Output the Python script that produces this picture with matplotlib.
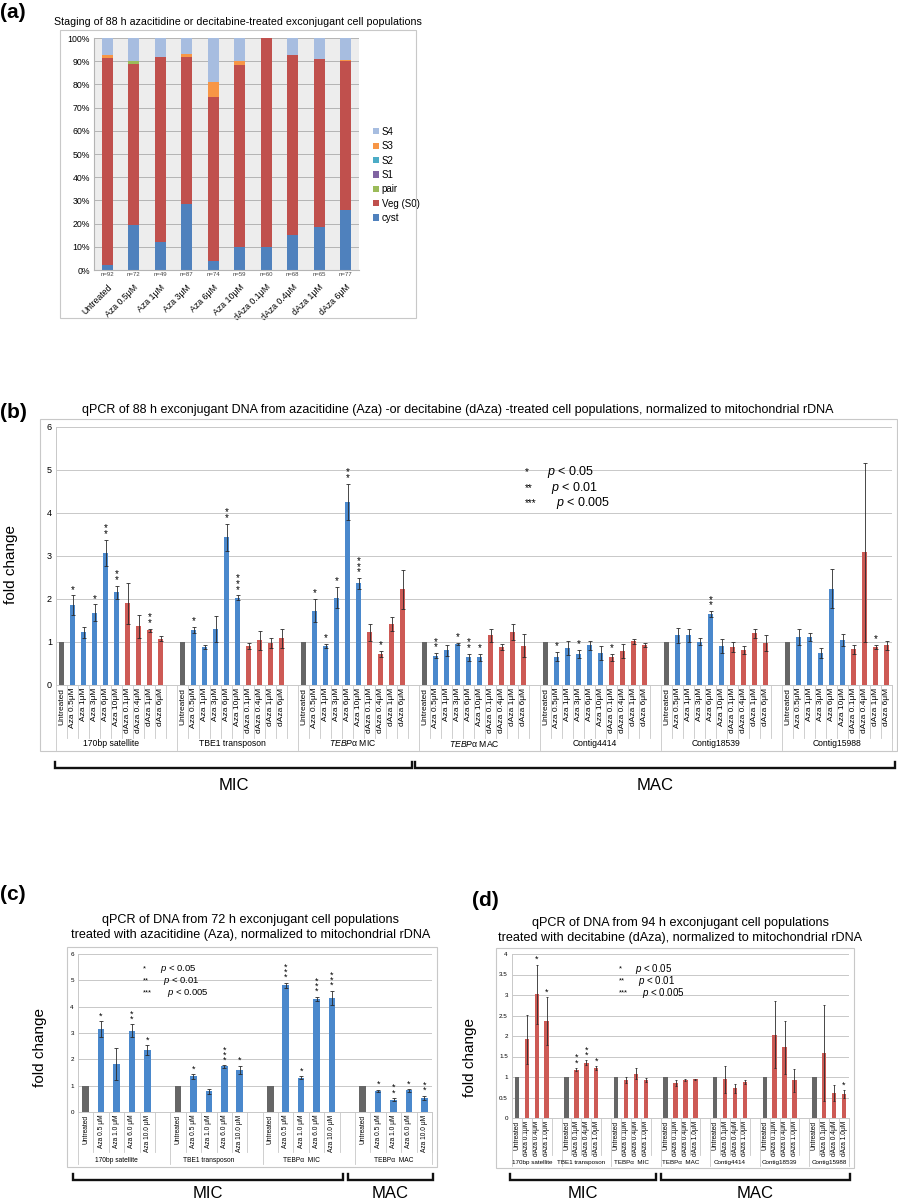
import matplotlib.pyplot as plt
from matplotlib.patches import Rectangle

plt.rcParams['font.family'] = ['Liberation Sans', 'DejaVu Sans']
plt.rcParams['mathtext.fontset'] = 'custom'
plt.rcParams['mathtext.rm'] = 'Liberation Sans'
plt.rcParams['mathtext.it'] = 'Liberation Sans:italic'

W, H = 898, 1200

# ---------------- (a) staging ----------------
stage_cats = ["Untreated", "Aza 0.5μM", "Aza 1μM", "Aza 3μM", "Aza 6μM", "Aza 10μM",
              "dAza 0.1μM", "dAza 0.4μM", "dAza 1μM", "dAza 6μM"]
stage_n = [92, 72, 49, 87, 74, 59, 60, 68, 65, 77]
cyst = [2, 19.5, 12, 28.5, 4, 10, 10, 15, 18.5, 26]
veg = [89.5, 69.5, 80, 63.5, 70.5, 78.5, 90, 77.8, 72.5, 64]
pair = [0, 1, 0, 0, 0, 0, 0, 0, 0, 0]
s1 = [0, 0, 0, 0, 0, 0, 0, 0, 0, 0]
s2 = [0, 0, 0, 0, 0, 0, 0, 0, 0, 0]
s3 = [1, 0, 0, 1, 6.5, 1.5, 0, 0, 0, 0.7]
s4 = [7.5, 10, 8, 7, 19, 10, 0, 7.2, 9, 9.3]

# ---------------- (b) qPCR 88 h ----------------
b_groups = ["170bp satellite", "TBE1 transposon", r"$\mathit{TEBP}$α MIC",
            r"$\mathit{TEBP}$α MAC", "Contig4414", "Contig18539", "Contig15988"]
b_conds = ["Untreated", "Aza 0.5μM", "Aza 1μM", "Aza 3μM", "Aza 6μM", "Aza 10μM",
           "dAza 0.1μM", "dAza 0.4μM", "dAza 1μM", "dAza 6μM"]
b_vals = [[1, 1.85, 1.22, 1.68, 3.07, 2.15, 1.90, 1.36, 1.27, 1.08],
          [1, 1.28, 0.89, 1.30, 3.43, 2.03, 0.91, 1.04, 0.98, 1.09],
          [1, 1.73, 0.91, 2.03, 4.25, 2.36, 1.22, 0.72, 1.42, 2.22],
          [1, 0.68, 0.81, 0.95, 0.64, 0.64, 1.15, 0.88, 1.23, 0.91],
          [1, 0.66, 0.86, 0.72, 0.92, 0.75, 0.64, 0.79, 1.02, 0.93],
          [1, 1.15, 1.15, 1.01, 1.64, 0.91, 0.89, 0.81, 1.20, 0.97],
          [1, 1.12, 1.11, 0.75, 2.24, 1.04, 0.83, 3.08, 0.89, 0.92]]
b_errs = [[0, 0.23, 0.12, 0.19, 0.30, 0.16, 0.48, 0.26, 0.03, 0.06],
          [0, 0.07, 0.05, 0.31, 0.31, 0.05, 0.07, 0.22, 0.12, 0.22],
          [0, 0.26, 0.04, 0.25, 0.42, 0.12, 0.19, 0.06, 0.16, 0.45],
          [0, 0.06, 0.13, 0.02, 0.08, 0.08, 0.16, 0.07, 0.19, 0.27],
          [0, 0.11, 0.17, 0.09, 0.10, 0.16, 0.08, 0.16, 0.06, 0.05],
          [0, 0.18, 0.16, 0.08, 0.07, 0.17, 0.12, 0.10, 0.11, 0.19],
          [0, 0.19, 0.09, 0.12, 0.46, 0.14, 0.10, 2.07, 0.05, 0.11]]
b_stars = [["", "*", "", "*", "**", "**", "", "", "**", ""],
           ["", "*", "", "", "**", "***", "", "", "", ""],
           ["", "*", "*", "*", "**", "***", "", "*", "", ""],
           ["", "**", "", "*", "**", "*", "", "", "", ""],
           ["", "*", "", "*", "", "", "*", "", "", ""],
           ["", "", "", "", "**", "", "", "", "", ""],
           ["", "", "", "", "", "", "", "", "*", ""]]

# ---------------- (c) qPCR 72 h Aza ----------------
c_groups = ["170bp satellite", "TBE1 transposon", "TEBPα  MIC", "TEBPα  MAC"]
c_conds = ["Untreated", "Aza 0.5 μM", "Aza 1.0 μM", "Aza 6.0 μM", "Aza 10.0 μM"]
c_vals = [[1, 3.15, 1.83, 3.09, 2.36],
          [1, 1.35, 0.78, 1.73, 1.60],
          [1, 4.81, 1.31, 4.29, 4.33],
          [1, 0.80, 0.47, 0.82, 0.54]]
c_errs = [[0, 0.31, 0.60, 0.24, 0.19],
          [0, 0.09, 0.10, 0.05, 0.16],
          [0, 0.10, 0.06, 0.09, 0.28],
          [0, 0.05, 0.07, 0.05, 0.08]]
c_stars = [["", "*", "", "**", "*"],
           ["", "*", "", "***", "*"],
           ["", "***", "*", "***", "***"],
           ["", "*", "**", "*", "**"]]

# ---------------- (d) qPCR 94 h dAza ----------------
d_groups = ["170bp satellite", "TBE1 transposon", "TEBPα  MIC", "TEBPα  MAC",
            "Contig4414", "Contig18539", "Contig15988"]
d_conds = ["Untreated", "dAza 0.1μM", "dAza 0.4μM", "dAza 1.0μM"]
d_vals = [[1, 1.92, 3.02, 2.37],
          [1, 1.18, 1.35, 1.21],
          [1, 0.93, 1.08, 0.92],
          [1, 0.85, 0.92, 0.94],
          [1, 0.94, 0.72, 0.88],
          [1, 2.03, 1.72, 0.92],
          [1, 1.58, 0.61, 0.58]]
d_errs = [[0, 0.60, 0.72, 0.58],
          [0, 0.04, 0.06, 0.05],
          [0, 0.07, 0.14, 0.05],
          [0, 0.08, 0.02, 0.02],
          [0, 0.33, 0.12, 0.05],
          [0, 0.82, 0.65, 0.28],
          [0, 1.17, 0.19, 0.10]]
d_stars = [["", "", "*", "*"],
           ["", "**", "**", "*"],
           ["", "", "", ""],
           ["", "", "", ""],
           ["", "", "", ""],
           ["", "", "", ""],
           ["", "", "", "*"]]

sig_marks = ["*", "**", "***"]
sig_texts = [r"$p$ < 0.05", r"$p$ < 0.01", r"$p$ < 0.005"]

GRAY = "#666666"
BLUE = "#4a88cc"
RED = "#cd5a55"
SEP = "#c8c8c8"


def px_rect(x0, y0, x1, y1):
    return [x0 / W, 1 - y1 / H, (x1 - x0) / W, (y1 - y0) / H]


def style_axes(ax, ymax, ystep, ylabels, yfs):
    ax.set_ylim(0, ymax)
    ticks = [i * ystep for i in range(len(ylabels))]
    ax.set_yticks(ticks)
    ax.set_yticklabels(ylabels, fontsize=yfs)
    ax.tick_params(axis='y', length=0, pad=3)
    ax.grid(axis='y', color=SEP, lw=0.7, zorder=0)
    ax.set_axisbelow(True)
    for s in ['top', 'right']:
        ax.spines[s].set_visible(False)
    for s in ['left', 'bottom']:
        ax.spines[s].set_color(SEP)
        ax.spines[s].set_linewidth(0.7)


def draw_groups(ax, vals, errs, stars, colors, width, star_fs, star_off, cap):
    n = len(colors)
    period = n + 1
    for g in range(len(vals)):
        xs = [g * period + j for j in range(n)]
        ax.bar(xs, vals[g], width=width, color=colors, zorder=2)
        ex = [x for x, e in zip(xs, errs[g]) if e > 0]
        ey = [v for v, e in zip(vals[g], errs[g]) if e > 0]
        ee = [e for e in errs[g] if e > 0]
        ax.errorbar(ex, ey, yerr=ee, fmt='none', ecolor='#2a2a2a', elinewidth=0.6,
                    capsize=cap, capthick=0.6, zorder=3)
        for x, v, e, s in zip(xs, vals[g], errs[g], stars[g]):
            if s:
                # stacked asterisks, one above the other
                ax.text(x, v + e + star_off, "\n".join(s), linespacing=0.45,
                        ha='center', va='bottom', fontsize=star_fs, zorder=4)


def category_axis(ax, groups, conds, tick_fs, group_fs, short, label_y, long):
    n = len(conds)
    period = n + 1
    ticks, labels = [], []
    for g in range(len(groups)):
        for j, c in enumerate(conds):
            ticks.append(g * period + j)
            labels.append(c)
    ax.set_xlim(-0.5, len(groups) * period - 1.5)
    ax.set_xticks(ticks)
    ax.set_xticklabels(labels, rotation=90, fontsize=tick_fs)
    ax.tick_params(axis='x', length=0, pad=2)
    tr = ax.get_xaxis_transform()
    for g in range(len(groups)):
        start = g * period - 0.5
        ax.plot([start, start], [0, -long], transform=tr, clip_on=False, color=SEP, lw=0.6)
        for j in range(n):
            x = g * period + j + 0.5
            ax.plot([x, x], [0, -short], transform=tr, clip_on=False, color=SEP, lw=0.6)
        ax.text(g * period + (n - 1) / 2, -label_y, groups[g], transform=tr,
                ha='center', va='center', fontsize=group_fs)
    xmax = ax.get_xlim()[1]
    ax.plot([xmax, xmax], [0, -long], transform=tr, clip_on=False, color=SEP, lw=0.6)


def sig_legend(ax, x, x_p, ys, fs):
    for m, t, y, xp in zip(sig_marks, sig_texts, ys, x_p):
        ax.text(x, y, m, fontsize=fs * 0.8, va='center', ha='left')
        ax.text(xp, y, t, fontsize=fs, va='center', ha='left')


fig = plt.figure(figsize=(W / 100, H / 100), dpi=100)

# ---------------- panel (a) ----------------
axa = fig.add_axes(px_rect(94, 38, 359, 270))
xa = list(range(len(stage_cats)))
series = [("cyst", cyst, "#4f81bd"), ("Veg (S0)", veg, "#c0504d"), ("pair", pair, "#9bbb59"),
          ("S1", s1, "#8064a2"), ("S2", s2, "#4bacc6"), ("S3", s3, "#f79646"),
          ("S4", s4, "#a7bde0")]
bottom = [0] * len(stage_cats)
handles = []
for name, vals, col in series:
    h = axa.bar(xa, vals, bottom=bottom, width=0.42, color=col, label=name, zorder=2)
    handles.append(h)
    bottom = [b + v for b, v in zip(bottom, vals)]
axa.set_facecolor("#ededed")
axa.set_xlim(-0.5, len(stage_cats) - 0.5)
axa.set_ylim(0, 100)
axa.set_yticks(range(0, 101, 10))
axa.set_yticklabels([f"{v}%" for v in range(0, 101, 10)], fontsize=6.3)
axa.grid(axis='y', color="#b4b4b4", lw=0.7, zorder=0)
axa.set_axisbelow(True)
for s in ['top', 'right']:
    axa.spines[s].set_visible(False)
for s in ['left', 'bottom']:
    axa.spines[s].set_color("#b4b4b4")
axa.tick_params(axis='y', length=0, pad=3)
axa.set_xticks(xa)
axa.set_xticklabels(stage_cats, rotation=45, ha='right', rotation_mode='anchor', fontsize=6.3)
axa.tick_params(axis='x', length=0, pad=9)
for i, n in enumerate(stage_n):
    axa.text(i, -0.8, f"n={n}", ha='center', va='top', fontsize=4.3, color="#444444")
axa.legend(handles[::-1], [s[0] for s in series][::-1], loc='center left',
           bbox_to_anchor=(1.02, 0.41), frameon=False, fontsize=7,
           handlelength=0.6, handleheight=0.6, handletextpad=0.3, labelspacing=0.45)

# ---------------- panel (b) ----------------
axb = fig.add_axes(px_rect(56, 426.7, 892, 685))
style_axes(axb, 6, 1, [str(i) for i in range(7)], 6.5)
draw_groups(axb, b_vals, b_errs, b_stars, [GRAY] + [BLUE] * 5 + [RED] * 4,
            0.5, 7, 0.02, 1.2)
category_axis(axb, b_groups, b_conds, 6, 6.2, 0.205, 0.225, 0.25)
axb.set_ylabel("fold change", fontsize=11)
axb.yaxis.set_label_coords(-0.045, 0.465)
sig_legend(axb, 42.1, [44.1, 44.5, 45.0], [4.95, 4.58, 4.23], 9)

# ---------------- panel (c) ----------------
axc = fig.add_axes(px_rect(78, 954, 432, 1112))
style_axes(axc, 6, 1, [str(i) for i in range(7)], 4.5)
draw_groups(axc, c_vals, c_errs, c_stars, [GRAY] + [BLUE] * 4, 0.43, 6.5, 0.02, 1.2)
category_axis(axc, c_groups, c_conds, 4.8, 4.8, 0.253, 0.304, 0.33)
axc.set_ylabel("fold change", fontsize=11)
axc.yaxis.set_label_coords(-0.088, 0.41)
sig_legend(axc, 3.72, [4.83, 5.02, 5.28], [5.43, 4.98, 4.53], 6.8)

# ---------------- panel (d) ----------------
axd = fig.add_axes(px_rect(512, 954, 849, 1118))
style_axes(axd, 4, 0.5, ["0", "0.5", "1", "1.5", "2", "2.5", "3", "3.5", "4"], 4.5)
draw_groups(axd, d_vals, d_errs, d_stars, [GRAY] + [RED] * 3, 0.45, 6.5, 0.015, 1.0)
category_axis(axd, d_groups, d_conds, 4.8, 4.5, 0.226, 0.27, 0.29)
axd.set_ylabel("fold change", fontsize=11)
axd.yaxis.set_label_coords(-0.104, 0.37)
sig_legend(axd, 10.3, [11.9, 12.2, 12.6], [3.63, 3.34, 3.05], 7)

# ---------------- overlay: frames, titles, labels, brackets ----------------
ov = fig.add_axes([0, 0, 1, 1])
ov.set_xlim(0, W)
ov.set_ylim(H, 0)
ov.axis('off')

for x0, y0, x1, y1 in [(60, 30, 416, 318), (40, 419, 897, 751),
                       (67, 947, 437, 1167), (496, 948, 854, 1168)]:
    ov.add_patch(Rectangle((x0, y0), x1 - x0, y1 - y0, fill=False,
                           edgecolor="#c8c8c8", lw=0.8))

for lab, x, y in [("(a)", 0, 12), ("(b)", 0, 412), ("(c)", 0, 895), ("(d)", 472, 901)]:
    ov.text(x, y, lab, fontsize=15, fontweight='bold', ha='left', va='center')

ov.text(238, 22, "Staging of 88 h azacitidine or decitabine-treated exconjugant cell populations",
        fontsize=7.7, ha='center', va='center')
ov.text(458, 410, "qPCR of 88 h exconjugant DNA from azacitidine (Aza) -or decitabine (dAza) "
        "-treated cell populations, normalized to mitochondrial rDNA",
        fontsize=9, ha='center', va='center')
ov.text(251, 920, "qPCR of DNA from 72 h exconjugant cell populations",
        fontsize=9.1, ha='center', va='center')
ov.text(251, 935, "treated with azacitidine (Aza), normalized to mitochondrial rDNA",
        fontsize=9.1, ha='center', va='center')
ov.text(680, 923, "qPCR of DNA from 94 h exconjugant cell populations",
        fontsize=9.1, ha='center', va='center')
ov.text(680, 938, "treated with decitabine (dAza), normalized to mitochondrial rDNA",
        fontsize=9.1, ha='center', va='center')


def bracket(x0, x1, y, label, ty):
    ov.plot([x0, x0, x1, x1], [y - 6, y, y, y - 6], color='#111111', lw=1.7,
            solid_joinstyle='miter')
    ov.text((x0 + x1) / 2, ty, label, fontsize=12, ha='center', va='center')


bracket(55, 412, 768, "MIC", 785)
bracket(415, 895, 768, "MAC", 785)
bracket(73, 343, 1180, "MIC", 1193)
bracket(348, 433, 1180, "MAC", 1193)
bracket(510, 656, 1180, "MIC", 1194)
bracket(661, 850, 1180, "MAC", 1194)

fig.savefig("out.png", dpi=100)
